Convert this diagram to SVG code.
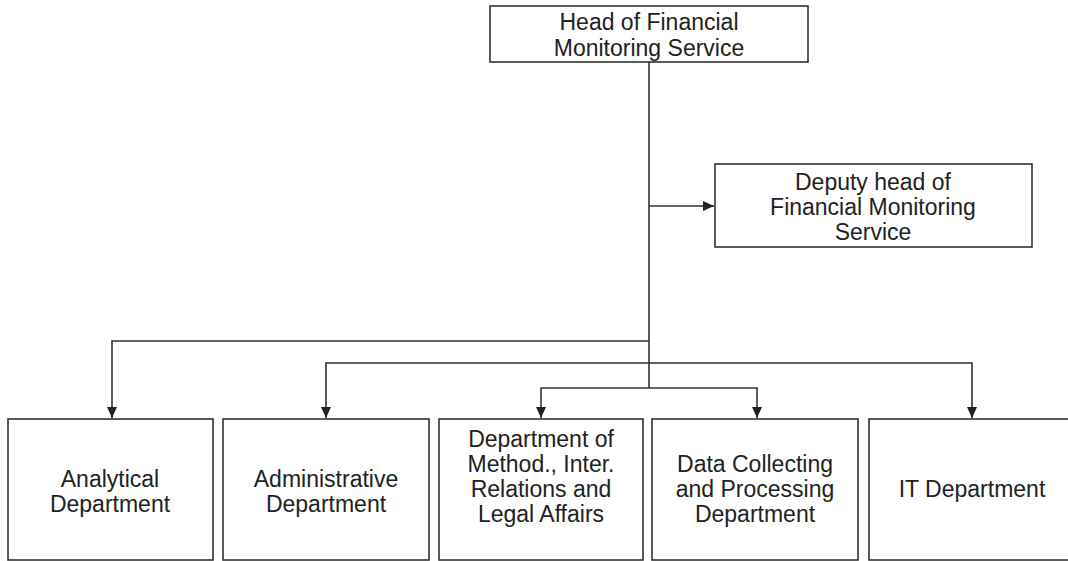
<svg xmlns="http://www.w3.org/2000/svg" width="1068" height="561" viewBox="0 0 1068 561">
<style>
.box{fill:#fff;stroke:#333;stroke-width:1.6}
.lbl{font-family:"Liberation Sans",Arial,sans-serif;font-size:23px;fill:#222;text-anchor:middle}
.con{fill:none;stroke:#333;stroke-width:1.6}
</style>
<defs>
<marker id="arr" markerWidth="12" markerHeight="12" refX="11" refY="6" orient="auto" markerUnits="userSpaceOnUse">
<path d="M0,1 L11,6 L0,11 Z" fill="#222"/>
</marker>
</defs>
<rect width="1068" height="561" fill="#fff"/>
<g id="connectors">
<path class="con" d="M649,62 V388"/>
<path class="con" d="M649,206 H714" marker-end="url(#arr)"/>
<path class="con" d="M649,341 H112 V418" marker-end="url(#arr)"/>
<path class="con" d="M649,363 H326 V418" marker-end="url(#arr)"/>
<path class="con" d="M649,363 H972 V418" marker-end="url(#arr)"/>
<path class="con" d="M649,388 H541 V418" marker-end="url(#arr)"/>
<path class="con" d="M649,388 H757 V418" marker-end="url(#arr)"/>
</g>
<g id="head">
<rect class="box" x="490" y="6" width="318" height="56"/>
<text class="lbl" x="649" y="30">Head of Financial</text>
<text class="lbl" x="649" y="56">Monitoring Service</text>
</g>
<g id="deputy">
<rect class="box" x="715" y="164" width="317" height="83"/>
<text class="lbl" x="873" y="190">Deputy head of</text>
<text class="lbl" x="873" y="215">Financial Monitoring</text>
<text class="lbl" x="873" y="240">Service</text>
</g>
<g id="analytical">
<rect class="box" x="8" y="419" width="205" height="141"/>
<text class="lbl" x="110" y="487">Analytical</text>
<text class="lbl" x="110" y="512">Department</text>
</g>
<g id="administrative">
<rect class="box" x="223" y="419" width="206" height="141"/>
<text class="lbl" x="326" y="487">Administrative</text>
<text class="lbl" x="326" y="512">Department</text>
</g>
<g id="method">
<rect class="box" x="439" y="419" width="204" height="141"/>
<text class="lbl" x="541" y="447">Department of</text>
<text class="lbl" x="541" y="472">Method., Inter.</text>
<text class="lbl" x="541" y="497">Relations and</text>
<text class="lbl" x="541" y="522">Legal Affairs</text>
</g>
<g id="data">
<rect class="box" x="652" y="419" width="206" height="141"/>
<text class="lbl" x="755" y="472">Data Collecting</text>
<text class="lbl" x="755" y="497">and Processing</text>
<text class="lbl" x="755" y="522">Department</text>
</g>
<g id="it">
<rect class="box" x="869" y="419" width="210" height="141"/>
<text class="lbl" x="972" y="497">IT Department</text>
</g>
</svg>
